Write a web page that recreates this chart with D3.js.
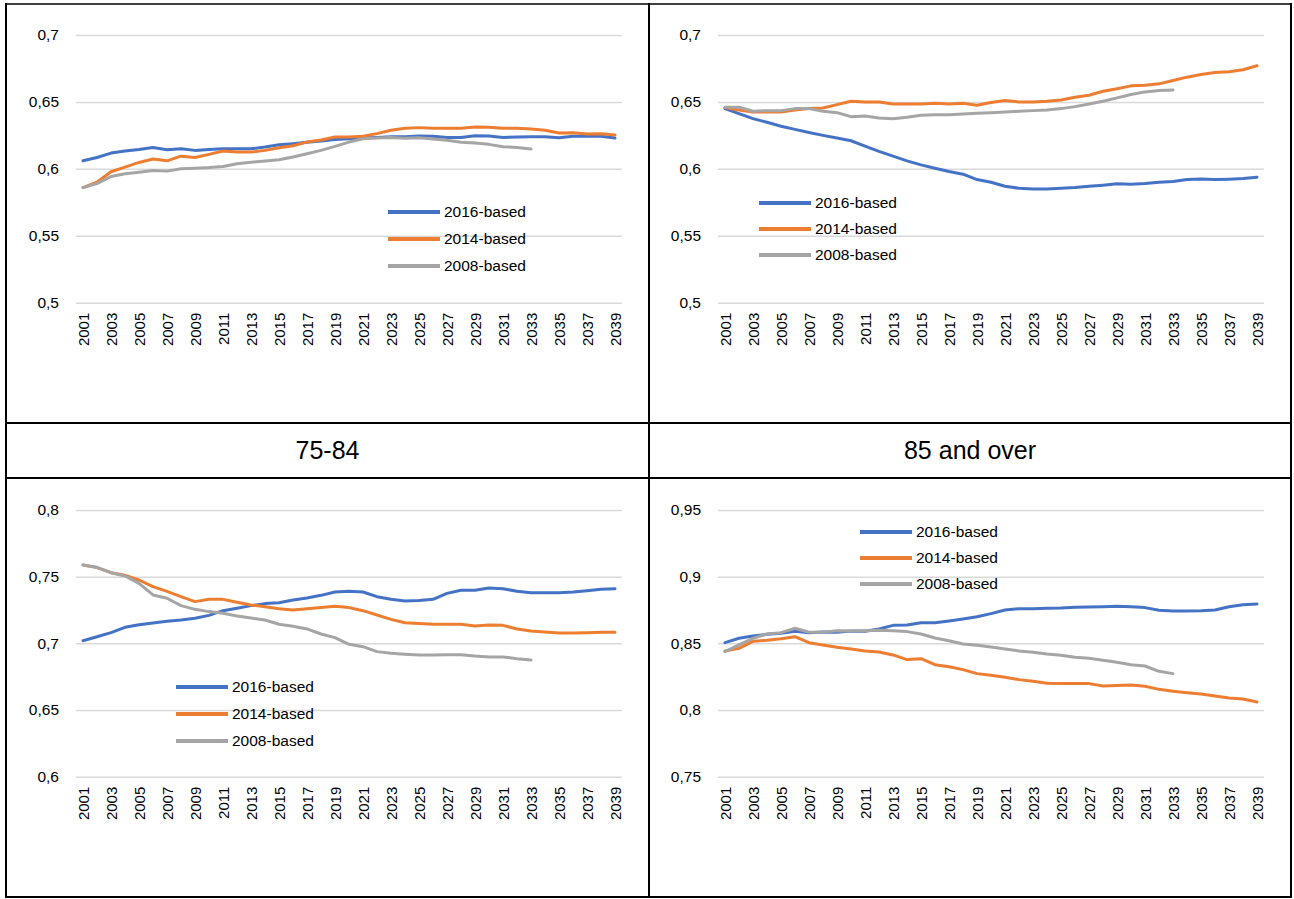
<!DOCTYPE html>
<html><head><meta charset="utf-8">
<script src="https://cdn.jsdelivr.net/npm/d3@7/dist/d3.min.js"></script>
<style>
html,body{margin:0;padding:0;background:#fff;}
text{font-family:"Liberation Sans",Arial,sans-serif;fill:#000;}
</style></head>
<body>
<svg id="chart" width="1294" height="899"></svg>
<script>
const years = [2001,2002,2003,2004,2005,2006,2007,2008,2009,2010,2011,2012,2013,2014,2015,2016,2017,2018,2019,2020,
  2021,2022,2023,2024,2025,2026,2027,2028,2029,2030,2031,2032,2033,2034,2035,2036,2037,2038,2039];
const yearTicks = [2001,2003,2005,2007,2009,2011,2013,2015,2017,2019,2021,2023,2025,2027,2029,2031,2033,2035,2037,2039];
const seriesNames = ["2016-based","2014-based","2008-based"];
const panelTitles = ["", "", "75-84", "85 and over"];

const ticksTop = [0.5,0.55,0.6,0.65,0.7];
const ticksBL = [0.6,0.65,0.7,0.75,0.8];
const ticksBR = [0.75,0.8,0.85,0.9,0.95];

const tl2016 = [.606,.6085,.6118,.6133,.6145,.616,.6143,.615,.6138,.6145,.615,.615,.615,.6163,.618,.6188,.6198,.6208,.622,.6225,.623,.6235,.624,.624,.6245,.6243,.6235,.6235,.6248,.6245,.6235,.6238,.624,.624,.6233,.6243,.6243,.6243,.623];
const tl2014 = [.586,.59,.5978,.6013,.6048,.6073,.606,.6095,.6085,.6108,.6133,.6125,.6125,.6138,.6158,.6173,.62,.6215,.6238,.6238,.6243,.6263,.6288,.6303,.6308,.6303,.6303,.6303,.6313,.631,.6303,.6303,.6298,.6288,.6268,.627,.626,.6263,.6253];
const tl2008 = [.586,.589,.5943,.5963,.5975,.5988,.5983,.60,.6005,.601,.6018,.6038,.605,.6058,.6068,.6088,.6113,.6138,.6168,.62,.6225,.623,.6235,.6228,.6233,.6223,.6213,.6198,.6193,.6183,.6165,.616,.6148];

const tr2016 = [.645,.6412,.6375,.6348,.6318,.6295,.6272,.625,.623,.621,.617,.613,.6095,.606,.603,.6005,.598,.596,.592,.590,.587,.5855,.585,.585,.5855,.586,.587,.5878,.5888,.5885,.589,.590,.5905,.592,.5925,.592,.5923,.5928,.5938];
const tr2014 = [.6458,.644,.6425,.6425,.6425,.644,.645,.6455,.648,.6505,.650,.650,.6485,.6485,.6485,.649,.6485,.649,.6475,.6495,.651,.650,.650,.6505,.6515,.6535,.655,.658,.6598,.662,.6625,.6635,.666,.6685,.6705,.672,.6725,.674,.677];
const tr2008 = [.646,.646,.643,.6435,.6435,.645,.645,.643,.642,.639,.6395,.638,.6375,.6385,.640,.6405,.6405,.641,.6415,.642,.6425,.643,.6435,.644,.645,.6465,.6485,.6505,.653,.6555,.6575,.6585,.659];

const bl2016 = [.702,.705,.708,.712,.714,.7153,.7165,.7175,.7188,.721,.7245,.7263,.7283,.7298,.7305,.7325,.734,.736,.7385,.739,.7385,.735,.733,.7318,.7322,.733,.7375,.7398,.7398,.7415,.741,.739,.738,.738,.738,.7385,.7395,.7405,.741];
const bl2014 = [.7588,.7568,.753,.751,.7475,.7425,.739,.735,.7313,.733,.733,.7308,.7288,.7275,.726,.725,.726,.7268,.7278,.7268,.7245,.7213,.718,.7155,.7148,.7143,.7143,.7143,.713,.7138,.7135,.7108,.7093,.7085,.7078,.7078,.708,.7083,.7083];
const bl2008 = [.7588,.757,.753,.7505,.745,.7363,.7338,.7283,.7255,.7238,.7225,.7205,.719,.7175,.7143,.7128,.7108,.707,.7043,.6993,.6975,.6938,.6925,.6918,.6913,.6913,.6915,.6915,.6905,.6898,.6898,.6885,.6875];

const br2016 = [.8505,.8538,.8555,.8568,.8575,.859,.858,.8585,.8583,.8593,.859,.8608,.8635,.8638,.8655,.8655,.8668,.8683,.87,.8723,.875,.876,.876,.8763,.8765,.877,.8773,.8775,.8778,.8775,.8768,.8748,.8743,.8743,.8745,.875,.8775,.879,.8795];
const br2014 = [.8443,.8463,.8515,.8523,.8535,.855,.8505,.8488,.847,.8458,.8443,.8435,.8413,.8378,.8385,.834,.8325,.8303,.8273,.826,.8245,.8228,.8215,.82,.8198,.8198,.8198,.818,.8183,.8188,.8178,.8155,.814,.813,.812,.8105,.809,.8083,.806];
const br2008 = [.8438,.8488,.8538,.857,.858,.8613,.8583,.8583,.8595,.8593,.8595,.8598,.8595,.8588,.857,.854,.852,.8495,.8485,.8473,.8458,.8443,.8433,.842,.841,.8395,.8388,.8373,.8358,.834,.833,.829,.8273];

// ---- styling / layout ----
const colors = ["#4472C4","#ED7D31","#A5A5A5"];
const svg = d3.select("#chart");

const panels = [
  {x0:76, x1:622, yTop:35, yBot:302.7, ticks:ticksTop, series:[tl2016,tl2014,tl2008], legend:{lx:388, rows:[212,239,266]}},
  {x0:718, x1:1264, yTop:35, yBot:302.7, ticks:ticksTop, series:[tr2016,tr2014,tr2008], legend:{lx:759, rows:[203,229,255]}},
  {x0:76, x1:622, yTop:510, yBot:776.7, ticks:ticksBL, series:[bl2016,bl2014,bl2008], legend:{lx:176, rows:[687,714,741]}},
  {x0:718, x1:1264, yTop:510, yBot:776.7, ticks:ticksBR, series:[br2016,br2014,br2008], legend:{lx:860, rows:[532,558,584]}}
];

const fmt = v => String(v).replace(".", ",");

panels.forEach((p, pi) => {
  const g = svg.append("g");
  const x = d3.scalePoint().domain(years).range([p.x0, p.x1]).padding(0.5);
  const y = d3.scaleLinear().domain([p.ticks[0], p.ticks[p.ticks.length-1]]).range([p.yBot, p.yTop]);

  // gridlines + y labels
  const yAxis = d3.axisLeft(y).tickValues(p.ticks).tickSize(-(p.x1 - p.x0)).tickFormat(fmt).tickPadding(17);
  const ga = g.append("g").attr("transform", `translate(${p.x0},0)`).call(yAxis);
  ga.select(".domain").remove();
  ga.selectAll(".tick line").attr("stroke", "#d9d9d9").attr("stroke-width", 1.5);
  ga.selectAll(".tick text").attr("font-size", "15.5px").attr("font-family", '"Liberation Sans",Arial,sans-serif').attr("fill","#000");

  // x axis labels
  const xAxis = d3.axisBottom(x).tickValues(yearTicks).tickSize(0).tickPadding(0);
  const gx = g.append("g").attr("transform", `translate(0,${p.yBot})`).call(xAxis);
  gx.select(".domain").remove();
  gx.selectAll(".tick text")
    .attr("font-size", "15px")
    .attr("font-family", '"Liberation Sans",Arial,sans-serif')
    .attr("fill","#000")
    .attr("text-anchor", "end")
    .attr("transform", "translate(0,10) rotate(-90)")
    .attr("x", 0).attr("y", 0).attr("dy", "0.35em");

  // lines
  const line = d3.line().x((d,i) => x(years[i])).y(d => y(d));
  p.series.forEach((s, si) => {
    g.append("path").datum(s).attr("d", line)
      .attr("fill", "none").attr("stroke", colors[si]).attr("stroke-width", 3)
      .attr("stroke-linejoin", "round").attr("stroke-linecap", "round");
  });

  // legend
  seriesNames.forEach((n, si) => {
    const ry = p.legend.rows[si];
    g.append("line").attr("x1", p.legend.lx).attr("x2", p.legend.lx + 52)
      .attr("y1", ry).attr("y2", ry).attr("stroke", colors[si]).attr("stroke-width", 4);
    g.append("text").attr("x", p.legend.lx + 56).attr("y", ry).attr("dy", "0.35em")
      .attr("font-size", "15.5px").text(n);
  });
});

// table borders
const border = svg.append("g").attr("stroke", "#000").attr("stroke-width", 2);
border.append("line").attr("x1", 5).attr("x2", 1292).attr("y1", 4).attr("y2", 4).attr("stroke-width", 1.5);
border.append("line").attr("x1", 5).attr("x2", 1292).attr("y1", 423).attr("y2", 423);
border.append("line").attr("x1", 5).attr("x2", 1292).attr("y1", 478).attr("y2", 478);
border.append("line").attr("x1", 5).attr("x2", 1292).attr("y1", 897).attr("y2", 897);
border.append("line").attr("x1", 6).attr("x2", 6).attr("y1", 3).attr("y2", 898);
border.append("line").attr("x1", 649).attr("x2", 649).attr("y1", 3).attr("y2", 898);
border.append("line").attr("x1", 1291).attr("x2", 1291).attr("y1", 3).attr("y2", 898);

// titles in the middle row
svg.append("text").attr("x", 327.5).attr("y", 450).attr("dy", "0.35em").attr("text-anchor", "middle")
  .attr("font-size", "25px").text(panelTitles[2]);
svg.append("text").attr("x", 970).attr("y", 450).attr("dy", "0.35em").attr("text-anchor", "middle")
  .attr("font-size", "25px").text(panelTitles[3]);
</script>
</body></html>
